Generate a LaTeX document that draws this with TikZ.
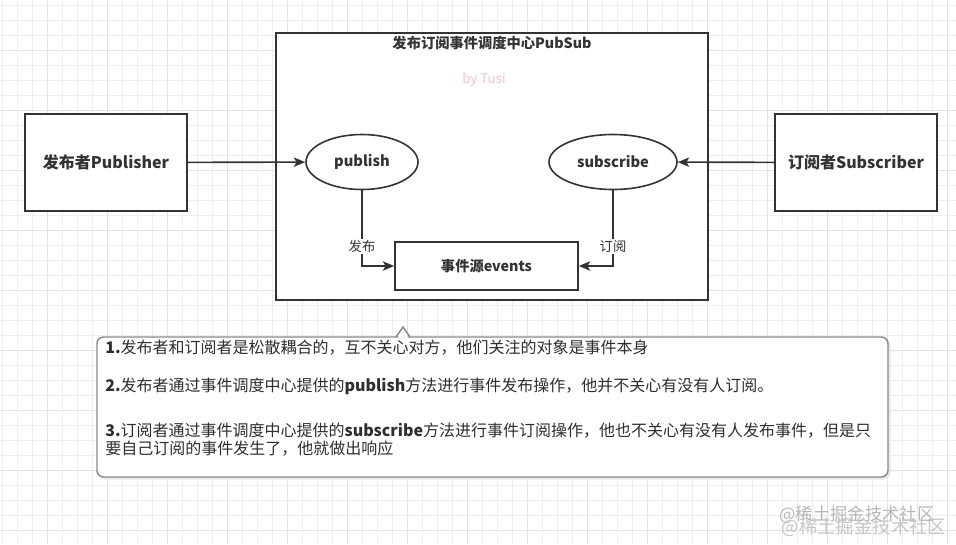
\documentclass[tikz,border=0pt]{standalone}
\usepackage{fontspec}
\setmainfont{Noto Sans CJK SC}
\usetikzlibrary{arrows.meta,shapes.geometric}
\definecolor{ink}{HTML}{333333}
\definecolor{gridminor}{HTML}{EFEFEF}
\definecolor{gridmajor}{HTML}{E3E3E3}
\definecolor{callc}{HTML}{8A8A8A}
\definecolor{pinkc}{HTML}{F2C4CE}
\tikzset{
  boxst/.style={draw=ink, line width=1.5pt, fill=white, inner sep=0pt, text=ink},
  ellst/.style={ellipse, draw=ink, line width=1.2pt, fill=white, inner sep=0pt, text=ink},
  arr/.style={draw=ink, line width=1.2pt, -{Stealth[length=8.5pt,width=7pt,inset=2pt]}},
  lbl/.style={fill=white, text=ink, inner sep=1pt, font=\fontsize{10}{12}\selectfont},
  cline/.style={anchor=west, text=ink!90!black, inner sep=0pt, font=\fontsize{12}{14}\selectfont},
}
\begin{document}
\begin{tikzpicture}[x=0.75pt,y=-0.75pt]
\useasboundingbox (0,0) rectangle (956,544);
\fill[white] (0,0) rectangle (956,544);
% grid
\foreach \x in {2,17,...,956} \draw[gridminor, line width=0.6pt] (\x,0) -- (\x,544);
\foreach \y in {5,20,...,544} \draw[gridminor, line width=0.6pt] (0,\y) -- (956,\y);
\foreach \x in {47,107,...,956} \draw[gridmajor, line width=0.6pt] (\x,0) -- (\x,544);
\foreach \y in {50,110,...,544} \draw[gridmajor, line width=0.6pt] (0,\y) -- (956,\y);

% PubSub container
\node[boxst, minimum width=432*0.75pt, minimum height=267*0.75pt] (center) at (492,166.5) {};
\node[text=ink, inner sep=0pt, font=\fontsize{10.7}{12}\selectfont\bfseries] (title) at (492,43) {发布订阅事件调度中心PubSub};
\node[text=pinkc, inner sep=0pt, font=\fontsize{10}{12}\selectfont] (by) at (484,80) {by Tusi};

% publisher / subscriber
\node[boxst, minimum width=162*0.75pt, minimum height=97*0.75pt, font=\fontsize{12}{14}\selectfont\bfseries] (pub) at (106,162.5) {发布者Publisher};
\node[boxst, minimum width=162*0.75pt, minimum height=97*0.75pt, font=\fontsize{12}{14}\selectfont\bfseries] (sub) at (856,162.5) {订阅者Subscriber};

% ellipses
\node[ellst, minimum width=112*0.75pt, minimum height=55*0.75pt, font=\fontsize{11}{13}\selectfont\bfseries] (publish) at (362,162) {publish};
\node[ellst, minimum width=128*0.75pt, minimum height=55*0.75pt, font=\fontsize{11}{13}\selectfont\bfseries] (subscribe) at (613,162) {subscribe};

% events
\node[boxst, line width=1.2pt, minimum width=183*0.75pt, minimum height=48*0.75pt, font=\fontsize{10.7}{12}\selectfont\bfseries] (events) at (486.5,266) {事件源events};

% connectors
\draw[arr] (pub) -- (publish);
\draw[arr] (sub) -- (subscribe);
\draw[arr] (publish.south) |- node[lbl, pos=0.37] {发布} (events.west);
\draw[arr] (subscribe.south) |- node[lbl, pos=0.37] {订阅} (events.east);

% callout
\fill[gray!18, rounded corners=5pt] (99,339.5) rectangle (890.5,479.5);
\draw[callc, line width=1.1pt, fill=white, rounded corners=5pt] (97,337) rectangle (888,477);
\fill[white] (397.5,338.3) -- (403,329.5) -- (408.5,338.3) -- cycle;
\draw[callc, line width=1.1pt] (396,337) -- (403,327) -- (410,337);
\coordinate (tip) at (403,327);

\node[cline] (l1) at (105,348) {\textbf{1.}发布者和订阅者是松散耦合的，互不关心对方，他们关注的对象是事件本身};
\node[cline] (l2) at (105,386) {\textbf{2.}发布者通过事件调度中心提供的\textbf{publish}方法进行事件发布操作，他并不关心有没有人订阅。};
\node[cline] (l3) at (105,431) {\textbf{3.}订阅者通过事件调度中心提供的\textbf{subscribe}方法进行事件订阅操作，他也不关心有没有人发布事件，但是只};
\node[cline] (l4) at (105,449) {要自己订阅的事件发生了，他就做出响应};

% watermark
\node[text=gray!70, inner sep=0pt, font=\fontsize{13}{14}\selectfont, opacity=0.8] (wm1) at (857,515) {@稀土掘金技术社区};
\node[text=gray!55, inner sep=0pt, font=\fontsize{13.8}{15}\selectfont, opacity=0.8] (wm2) at (864,527) {@稀土掘金技术社区};
\end{tikzpicture}
\end{document}
